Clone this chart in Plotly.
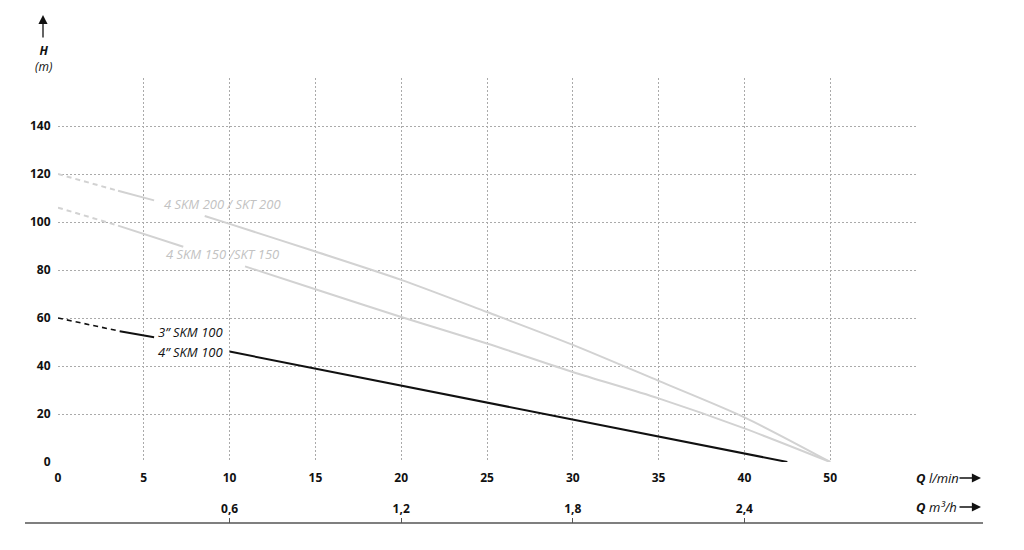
import plotly.graph_objects as go

# ---------------- data ----------------
q_ticks = [0, 5, 10, 15, 20, 25, 30, 35, 40, 45, 50]
q_tick_text = ["0", "5", "10", "15", "20", "25", "30", "35", "40", "50", ""]
h_ticks = [0, 20, 40, 60, 80, 100, 120, 140, 160]
h_tick_text = ["0", "20", "40", "60", "80", "100", "120", "140", ""]
m3h_ticks = [0.6, 1.2, 1.8, 2.4]
m3h_tick_text = ["0,6", "1,2", "1,8", "2,4"]

# 4 SKM 200 / SKT 200
skm200_dash_q = [0, 3.5]
skm200_dash_h = [120, 113]
skm200_a_q = [3.5, 5.6]
skm200_a_h = [113, 109]
skm200_b_q = [8.55, 10, 15, 20, 25, 30, 35, 40, 45]
skm200_b_h = [102.5, 99.2, 87.7, 75.9, 62.5, 48.8, 33.8, 18.6, 0]

# 4 SKM 150 / SKT 150
skm150_dash_q = [0, 3.5]
skm150_dash_h = [106, 98.5]
skm150_a_q = [3.5, 7.3]
skm150_a_h = [98.5, 89.7]
skm150_b_q = [10.9, 15, 20, 25, 30, 35, 40, 45]
skm150_b_h = [81.5, 72, 60.4, 49.4, 37.5, 26.5, 14, 0]

# 3" / 4" SKM 100
skm100_dash_q = [0, 3.6]
skm100_dash_h = [60, 54.5]
skm100_a_q = [3.6, 5.6]
skm100_a_h = [54.5, 52]
skm100_b_q = [10, 20, 30, 40, 42.5]
skm100_b_h = [46, 31.8, 17.6, 3.5, 0]

label_200 = "4 SKM 200 / SKT 200"
label_150 = "4 SKM 150 /SKT 150"
label_3in = "3\u201d SKM 100"
label_4in = "4\u201d SKM 100"

# ---------------- style ----------------
GRAY_LINE = "#d2d2d2"
GRAY_TEXT = "#c2c2c2"
FONT = "Open Sans, sans-serif"

W, H = 1024, 550
ML, MR, MT, MB = 58, 108, 78, 27
PW = W - ML - MR
PH = H - MT - MB
Y_AXIS_BOTTOM_PX = 462


def px(xp):
    return (xp - ML) / PW


def py(yp):
    return (H - MB - yp) / PH


fig = go.Figure()


def add_seg(q, h, color, dash="solid", width=2, shape="linear"):
    fig.add_trace(go.Scatter(x=q, y=h, mode="lines",
                             line=dict(color=color, width=width, dash=dash,
                                       shape=shape, smoothing=0.8),
                             hoverinfo="skip", showlegend=False))


for dq, dh, aq, ah, bq, bh, col in [
    (skm200_dash_q, skm200_dash_h, skm200_a_q, skm200_a_h, skm200_b_q, skm200_b_h, GRAY_LINE),
    (skm150_dash_q, skm150_dash_h, skm150_a_q, skm150_a_h, skm150_b_q, skm150_b_h, GRAY_LINE),
    (skm100_dash_q, skm100_dash_h, skm100_a_q, skm100_a_h, skm100_b_q, skm100_b_h, "#111111"),
]:
    add_seg(dq, dh, col, dash="5px,4px", width=1.6 if col != GRAY_LINE else 2)
    add_seg(aq, ah, col, width=2)
    add_seg(bq, bh, col, width=2, shape="spline" if col == GRAY_LINE else "linear")

# dummy trace to activate secondary axis
fig.add_trace(go.Scatter(x=[0, 3], y=[0, 0], xaxis="x2", mode="lines",
                         line=dict(color="rgba(0,0,0,0)"), hoverinfo="skip",
                         showlegend=False))

ann = []
# curve labels
ann.append(dict(x=9.56, y=107.4, xref="x", yref="y", text="<i>%s</i>" % label_200,
                showarrow=False, xanchor="center", yanchor="middle",
                font=dict(family=FONT, size=13, color=GRAY_TEXT)))
ann.append(dict(x=9.56, y=86.6, xref="x", yref="y", text="<i>%s</i>" % label_150,
                showarrow=False, xanchor="center", yanchor="middle",
                font=dict(family=FONT, size=13, color=GRAY_TEXT)))
ann.append(dict(x=9.75, y=54.0, xref="x", yref="y", text="<i>%s</i>" % label_3in,
                showarrow=False, xanchor="right", yanchor="middle",
                font=dict(family=FONT, size=13, color="#111111")))
ann.append(dict(x=9.75, y=46.0, xref="x", yref="y", text="<i>%s</i>" % label_4in,
                showarrow=False, xanchor="right", yanchor="middle",
                font=dict(family=FONT, size=13, color="#111111")))

# H axis title with arrow
ann.append(dict(x=px(43), y=py(15), xref="paper", yref="paper", text="",
                showarrow=True, ax=0, ay=24, arrowhead=2, arrowsize=1.4,
                arrowwidth=1.3, arrowcolor="#111111"))
ann.append(dict(x=px(43), y=py(59), xref="paper", yref="paper",
                text="<b><i>H</i></b><br><i>(m)</i>", showarrow=False,
                xanchor="center", yanchor="middle", align="center",
                font=dict(family=FONT, size=12, color="#111111")))

# Q axis titles with arrows
for ytxt, txt in [(478, "<b><i>Q</i></b> <i>l/min</i>"),
                  (507, "<b><i>Q</i></b> <i>m\u00b3/h</i>")]:
    ann.append(dict(x=px(914), y=py(ytxt), xref="paper", yref="paper",
                    text=txt, showarrow=False, xanchor="left", yanchor="middle",
                    font=dict(family=FONT, size=13, color="#111111")))
    ann.append(dict(x=px(981), y=py(ytxt), xref="paper", yref="paper",
                    text="", showarrow=True, ax=-23, ay=0, arrowhead=2,
                    arrowsize=1.4, arrowwidth=1.3, arrowcolor="#111111"))

fig.update_layout(
    width=W, height=H,
    margin=dict(l=ML, r=MR, t=MT, b=MB, pad=0),
    paper_bgcolor="white", plot_bgcolor="white",
    font=dict(family=FONT, size=12, color="#111111"),
    showlegend=False,
    annotations=ann,
    shapes=[dict(type="line", xref="paper", yref="paper",
                 x0=px(25), x1=px(983), y0=0, y1=0,
                 line=dict(color="#555555", width=1.5))],
    xaxis=dict(range=[0, 50], tickvals=q_ticks, ticktext=q_tick_text,
               showgrid=True, gridcolor="#aaaaaa", griddash="2px,2px", gridwidth=1,
               zeroline=False, showline=False, ticks="outside", ticklen=5,
               tickcolor="rgba(0,0,0,0)", tickfont=dict(family=FONT, size=12, weight="bold"),
               anchor="y", fixedrange=True),
    xaxis2=dict(range=[0, 3], overlaying="x", anchor="free", position=0, side="top",
                tickvals=m3h_ticks, ticktext=m3h_tick_text, showgrid=False,
                zeroline=False, showline=False, ticks="outside", ticklen=5,
                tickcolor="#555555", tickwidth=1, fixedrange=True,
                tickfont=dict(family=FONT, size=12, weight="bold")),
    yaxis=dict(range=[0, 160], domain=[(H - MB - Y_AXIS_BOTTOM_PX) / PH, 1],
               tickvals=h_ticks, ticktext=h_tick_text,
               showgrid=True, gridcolor="#aaaaaa", griddash="2px,2px", gridwidth=1,
               zeroline=False, showline=False, ticks="outside", ticklen=4,
               tickcolor="rgba(0,0,0,0)", tickfont=dict(family=FONT, size=12, weight="bold"),
               fixedrange=True),
)

fig.write_html("out.html", config={"displayModeBar": False},
               post_script="document.body.style.margin='0px';document.body.style.overflow='hidden';")
